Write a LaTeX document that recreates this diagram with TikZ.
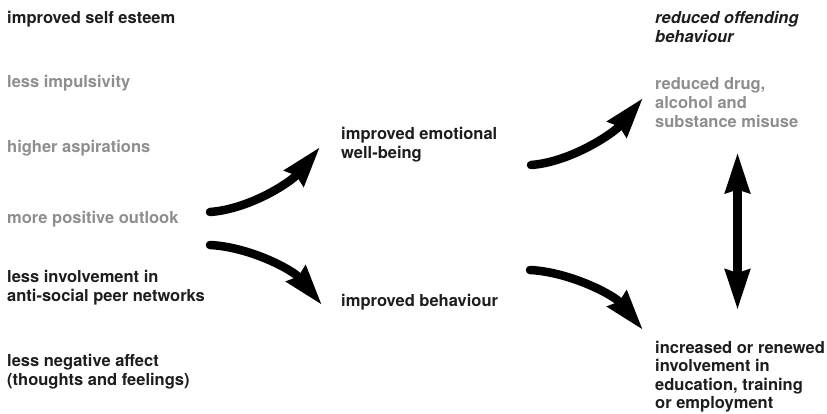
\documentclass[tikz,border=0pt]{standalone}
\usepackage{fontspec}
\setmainfont{TeX Gyre Heros}
\usetikzlibrary{arrows.meta, positioning}
\definecolor{darktext}{RGB}{30,28,29}
\definecolor{fadedtext}{RGB}{142,142,142}

\begin{document}
\begin{tikzpicture}[x=1pt, y=-1pt,
    >={Stealth[length=40pt, width=24pt, inset=3pt]},
    outcome/.style={anchor=base west, inner sep=0pt, align=left,
      font=\bfseries\fontsize{16.5}{19}\selectfont, text=darktext},
    faded/.style={outcome, text=fadedtext},
    link/.style={line width=8.5pt, line cap=round, ->},
  ]
  \useasboundingbox (0,0) rectangle (827,413);

  % first column (multi-line nodes sit on their last baseline)
  \node[outcome] (esteem)   at (7,23)    {improved self esteem};
  \node[faded]   (impulse)  at (7,87.5)  {less impulsivity};
  \node[faded]   (aspire)   at (7,152)   {higher aspirations};
  \node[faded]   (outlook)  at (7,223)   {more positive outlook};
  \node[outcome] (peers)    at (7,301.5) {less involvement in\\anti-social peer networks};
  \node[outcome] (affect)   at (7,385.5) {less negative affect\\(thoughts and feelings)};

  % middle column
  \node[outcome] (emotion)  at (341,158.5) {improved emotional\\well-being};
  \node[outcome] (behave)   at (341,306)   {improved behaviour};

  % last column
  \node[outcome, font=\bfseries\itshape\fontsize{16.5}{19}\selectfont]
                 (offend)   at (655,42.5) {reduced offending\\behaviour};
  \node[faded]   (drugs)    at (655,127)  {reduced drug,\\alcohol and\\substance misuse};
  \node[outcome, font=\bfseries\fontsize{16.5}{18.5}\selectfont]
                 (work)     at (655,408.5) {increased or renewed\\involvement in\\education, training\\or employment};

  % arrow ends
  \coordinate (upA) at (210,212);   \coordinate (upB) at (320,147);
  \coordinate (dnA) at (210,245);   \coordinate (dnB) at (322,305);
  \coordinate (upC) at (531,165);   \coordinate (upD) at (643,98);
  \coordinate (dnC) at (530,270);   \coordinate (dnD) at (643,330);
  \coordinate (vtop) at (737.5,152.5);
  \coordinate (vbot) at (737.5,310);

  \draw[link] (upA) .. controls (250,209) and (291,182) .. (upB); % towards well-being
  \draw[link] (dnA) .. controls (250,247) and (293,270) .. (dnB); % towards behaviour
  \draw[link] (upC) .. controls (571,162) and (614,133) .. (upD); % towards drug misuse
  \draw[link] (dnC) .. controls (570,272) and (614,295) .. (dnD); % towards employment
  \draw[link, <->] (vtop) -- (vbot); % two-way link
\end{tikzpicture}
\end{document}
